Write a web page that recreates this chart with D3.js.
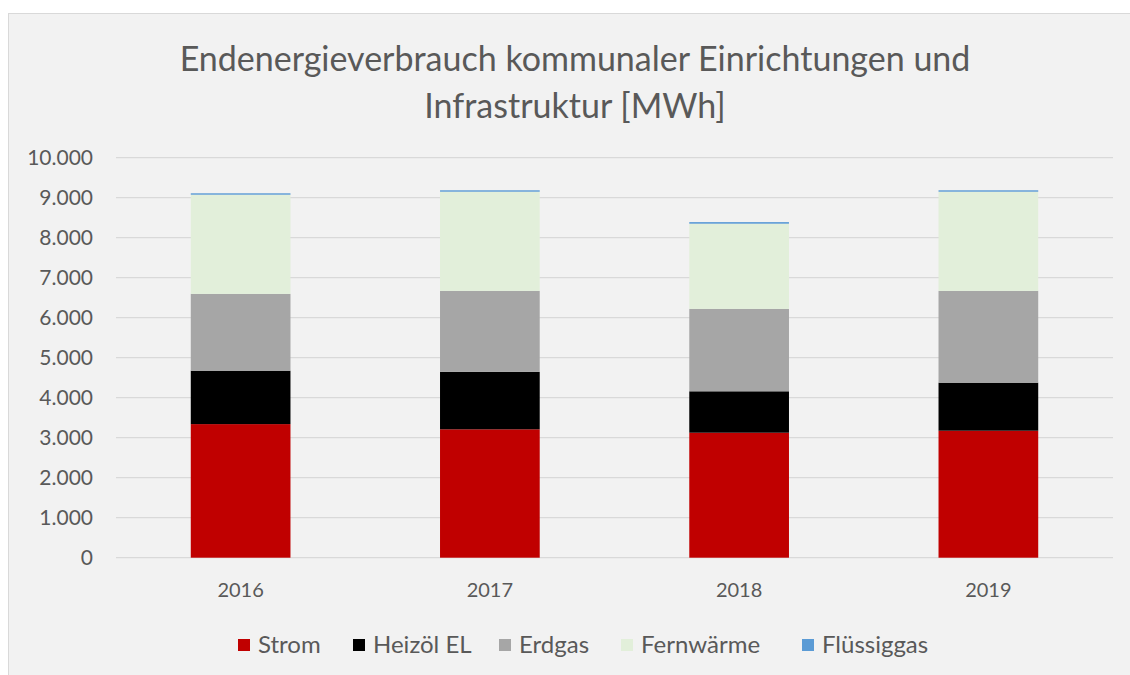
<!DOCTYPE html>
<html>
<head>
<meta charset="utf-8">
<script src="https://cdn.jsdelivr.net/npm/d3@7"></script>
<style>
  html, body { margin: 0; padding: 0; background: #fff; }
  svg { display: block; }
</style>
</head>
<body>
<svg id="chart" width="1130" height="675"></svg>
<script>
// Endenergieverbrauch kommunaler Einrichtungen und Infrastruktur [MWh]

const YEARS = ['2016', '2017', '2018', '2019'];
const SERIES = ['Strom', 'Heizöl EL', 'Erdgas', 'Fernwärme', 'Flüssiggas'];
const COLORS = ['#c00000', '#000000', '#a6a6a6', '#e2efda', '#5b9bd5'];

const STROM      = [3340, 3210, 3125, 3175];
const HEIZOEL    = [1335, 1435, 1035, 1200];
const ERDGAS     = [1920, 2025, 2060, 2295];
const FERNWAERME = [2480, 2480, 2130, 2480];
const FLUESSIG   = [35, 35, 40, 35];

const Y_TICKS = [0, 1000, 2000, 3000, 4000, 5000, 6000, 7000, 8000, 9000, 10000];

const svg = d3.select('#chart');
const W = 1130, H = 675;
const FONT = 'Lato, "Open Sans", sans-serif';
const TXT = '#595959';

// chart area
svg.append('rect')
  .attr('x', 8.5).attr('y', 13.5)
  .attr('width', W + 20).attr('height', H + 20)
  .attr('fill', '#f2f2f2')
  .attr('stroke', '#d9d9d9')
  .attr('stroke-width', 1);

// title
const title = svg.append('text')
  .attr('text-anchor', 'middle')
  .attr('font-family', FONT)
  .attr('font-size', '34px')
  .attr('fill', TXT);
title.append('tspan').attr('x', 575).attr('y', 71)
  .text('Endenergieverbrauch kommunaler Einrichtungen und');
title.append('tspan').attr('x', 575).attr('y', 118)
  .text('Infrastruktur [MWh]');

const m = { left: 116, right: 1113, top: 157.7, bottom: 557.7 };

const x = d3.scaleBand().domain(YEARS).range([m.left, m.right]).paddingInner(0.6).paddingOuter(0.3);
const y = d3.scaleLinear().domain([0, 10000]).range([m.bottom, m.top]);

// gridlines
svg.append('g').selectAll('line')
  .data(Y_TICKS).join('line')
    .attr('x1', m.left).attr('x2', m.right)
    .attr('y1', d => y(d)).attr('y2', d => y(d))
    .attr('stroke', '#d9d9d9')
    .attr('stroke-width', 1.3);

// y labels
const fmt = d3.formatLocale({ decimal: ',', thousands: '.', grouping: [3], currency: ['', ''] }).format(',d');
svg.append('g').selectAll('text')
  .data(Y_TICKS).join('text')
    .attr('x', 93)
    .attr('y', d => y(d))
    .attr('dy', '0.35em')
    .attr('text-anchor', 'end')
    .attr('font-family', FONT)
    .attr('font-size', '21px')
    .attr('fill', TXT)
    .text(d => fmt(d));

// stacked bars
const rows = YEARS.map((yr, i) => ({
  year: yr,
  'Strom': STROM[i],
  'Heizöl EL': HEIZOEL[i],
  'Erdgas': ERDGAS[i],
  'Fernwärme': FERNWAERME[i],
  'Flüssiggas': FLUESSIG[i]
}));
const stack = d3.stack().keys(SERIES)(rows);

svg.append('g').selectAll('g')
  .data(stack).join('g')
    .attr('fill', (d, i) => COLORS[i])
  .selectAll('rect')
  .data(d => d).join('rect')
    .attr('x', d => x(d.data.year))
    .attr('width', x.bandwidth())
    .attr('y', d => y(d[1]))
    .attr('height', d => y(d[0]) - y(d[1]));

// x labels
svg.append('g').selectAll('text')
  .data(YEARS).join('text')
    .attr('x', d => x(d) + x.bandwidth() / 2)
    .attr('y', 597)
    .attr('text-anchor', 'middle')
    .attr('font-family', FONT)
    .attr('font-size', '20px')
    .attr('fill', TXT)
    .text(d => d);

// legend
const LEG_X = [238, 353, 499, 621, 802];
const leg = svg.append('g').selectAll('g')
  .data(SERIES).join('g')
    .attr('transform', (d, i) => `translate(${LEG_X[i]},0)`);
leg.append('rect')
  .attr('x', 0).attr('y', 639)
  .attr('width', 12).attr('height', 12)
  .attr('fill', (d, i) => COLORS[i]);
leg.append('text')
  .attr('x', 20).attr('y', 653)
  .attr('font-family', FONT)
  .attr('font-size', '24px')
  .attr('fill', TXT)
  .text(d => d);
</script>
</body>
</html>
